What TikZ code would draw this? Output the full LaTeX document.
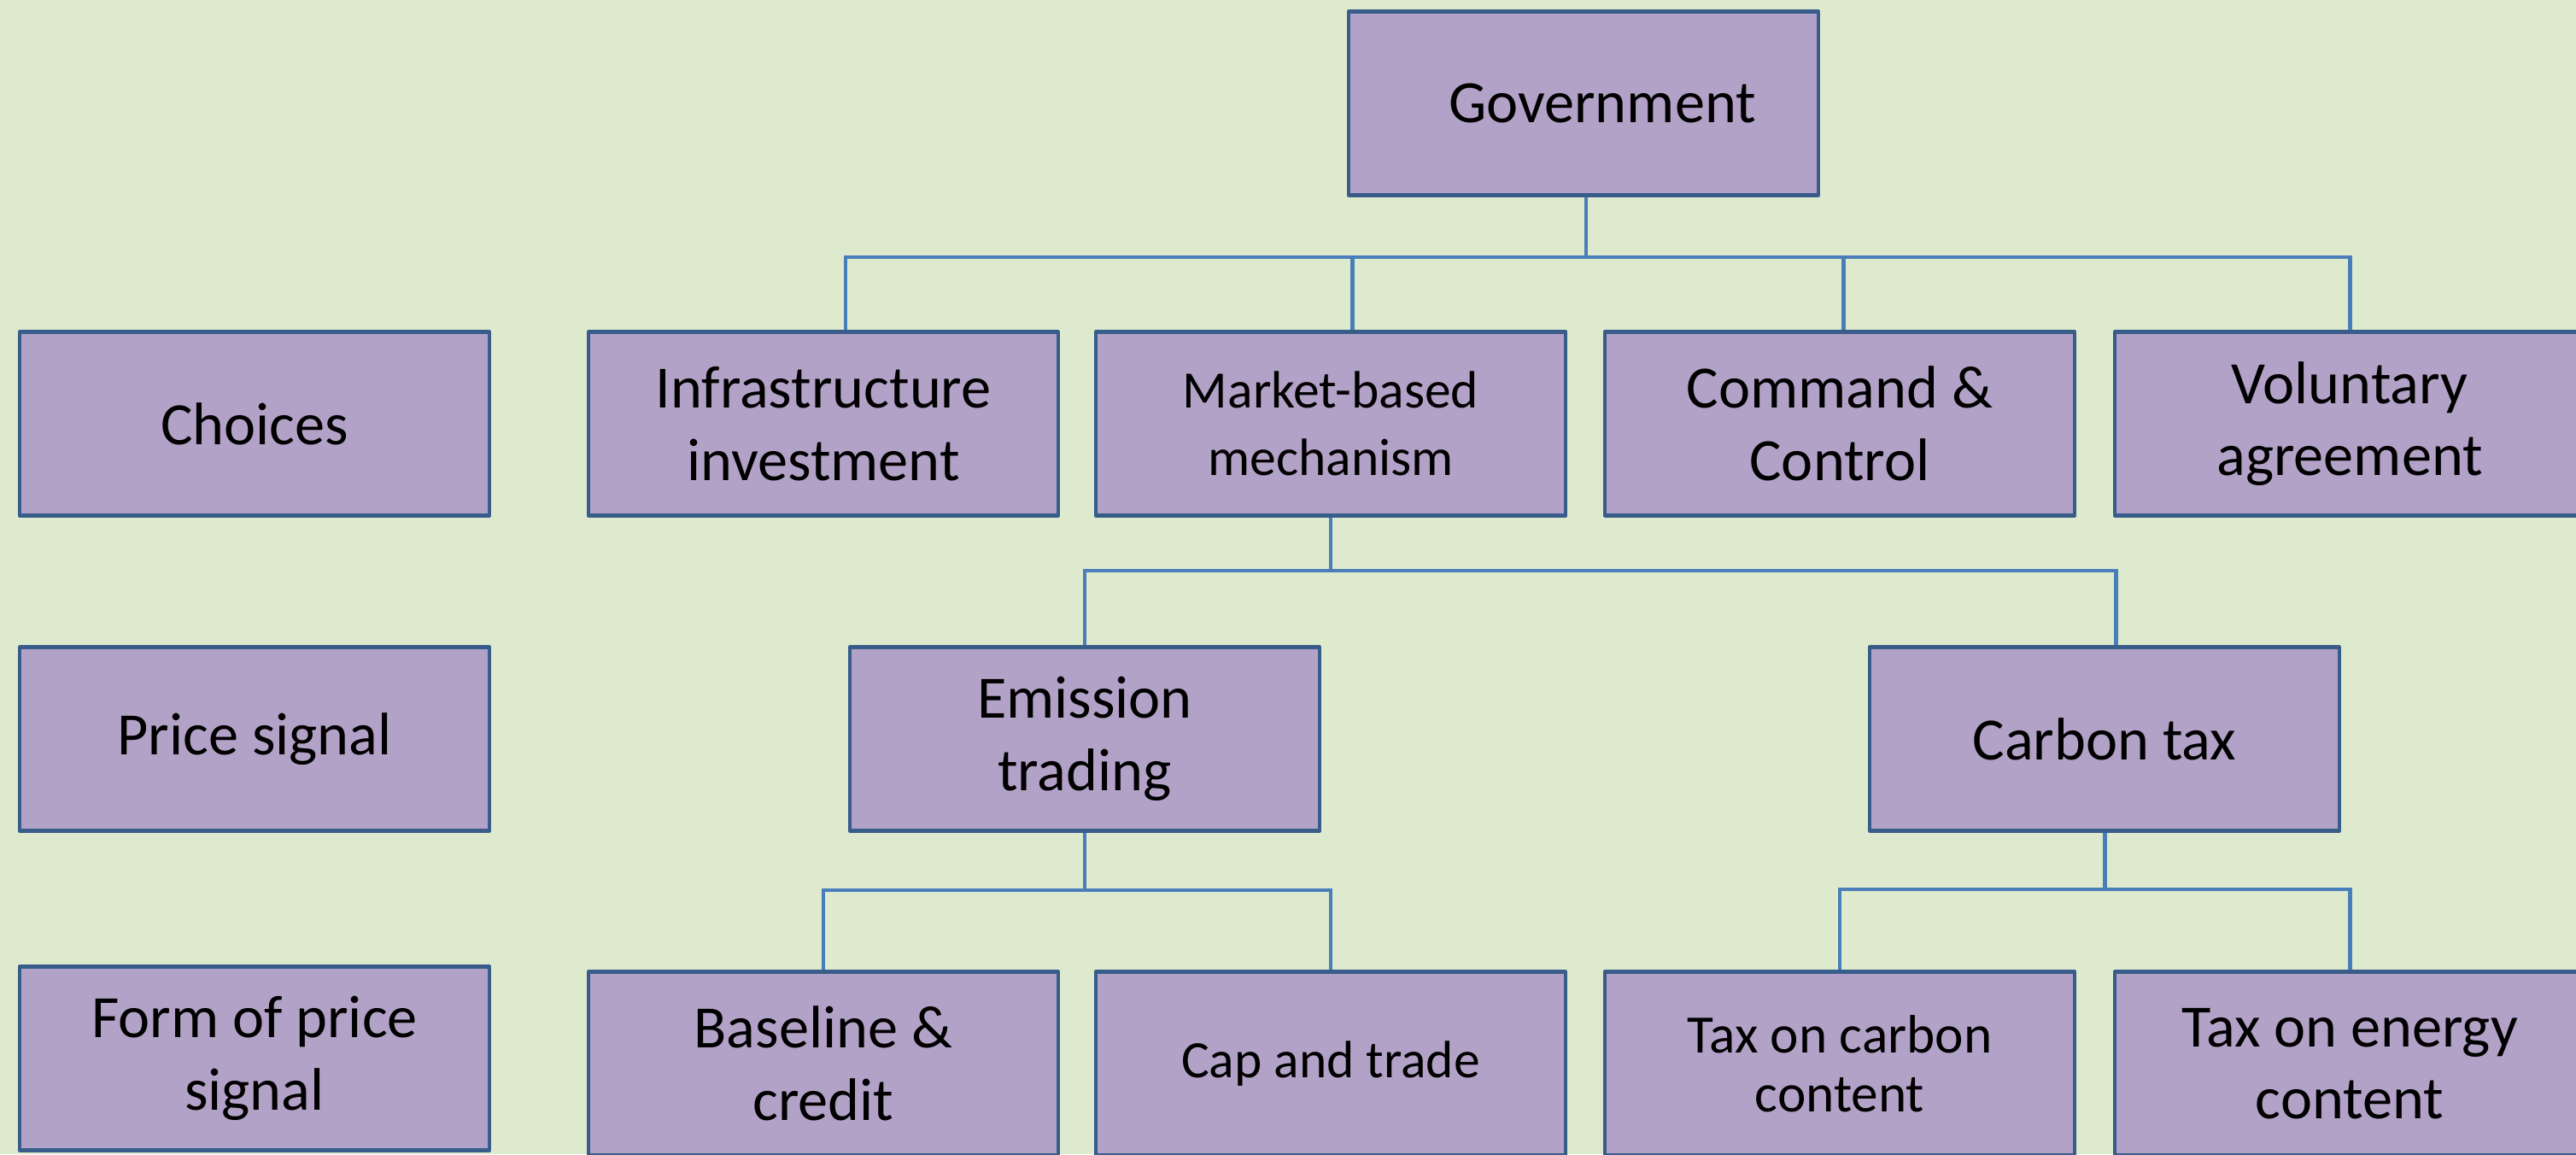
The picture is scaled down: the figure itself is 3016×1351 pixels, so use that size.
\documentclass[tikz,border=0pt]{standalone}
\usepackage{fontspec}
\setmainfont{Carlito}
\usetikzlibrary{calc}
\definecolor{bgcol}{RGB}{222,234,206}
\definecolor{boxfill}{RGB}{179,162,199}
\definecolor{boxline}{RGB}{56,93,138}
\definecolor{linkline}{RGB}{74,126,187}

\begin{document}
\begin{tikzpicture}[x=0.01cm,y=-0.01cm,
 box/.style={draw=boxline, fill=boxfill, line width=1.2pt, line join=round, minimum width=5.5cm, minimum height=2.15cm, align=center, inner sep=0pt, font=\fontsize{20}{24}\selectfont},
 small/.style={font=\fontsize{17.5}{22.5}\selectfont},
 link/.style={draw=linkline, line width=1.4pt}]
\fill[bgcol] (0,0) rectangle (3016,1351);
\useasboundingbox (0,0) rectangle (3016,1351);
% top
\node[box] (gov) at (1854,121) {\hspace*{.44cm}Government};
% choices
\node[box] (choices) at (298,496) {Choices};
\node[box] (infra) at (964,496) {Infrastructure\\investment};
\node[box, small] (market) at (1558,496) {Market-based\\mechanism};
\node[box] (command) at (2154,496) {Command \&\\Control};
\node[box] (volunt) at (2751,496) {Voluntary\\agreement};
% price signal
\node[box] (price) at (298,865) {Price signal};
\node[box] (emis) at (1270,865) {Emission\\trading};
\node[box] (ctax) at (2464,865) {Carbon tax};
% form of price signal
\node[box] (form) at (298,1239) {Form of price\\signal};
\node[box] (base) at (964,1245) {Baseline \&\\credit};
\node[box, small] (cap) at (1558,1245) {Cap and trade};
\node[box, font=\fontsize{18}{19.6}\selectfont] (taxc) at (2154,1245) {Tax on carbon\\content};
\node[box] (taxe) at (2751,1245) {Tax on energy\\content};

\coordinate (bus1) at (1857,301);
\draw[link] (gov.south -| bus1) -- (bus1);
\draw[link] ([xshift=.26cm]infra.north) |- (bus1) -| (volunt.north);
\draw[link] ([xshift=.25cm]market.north) -- ([xshift=.25cm]market.north |- bus1);
\draw[link] ([xshift=.04cm]command.north) -- ([xshift=.04cm]command.north |- bus1);

\coordinate (bus2) at (1558,668);
\draw[link] (market) -- (bus2);
\draw[link] (emis.north) |- (bus2) -| ([xshift=.13cm]ctax.north);

\coordinate (bus3) at (1270,1042);
\draw[link] (emis) -- (bus3);
\draw[link] (base.north) |- (bus3) -| (cap.north);

\coordinate (bus4) at (2464,1041);
\draw[link] (ctax) -- (bus4);
\draw[link] (taxc.north) |- (bus4) -| (taxe.north);
\end{tikzpicture}
\end{document}
